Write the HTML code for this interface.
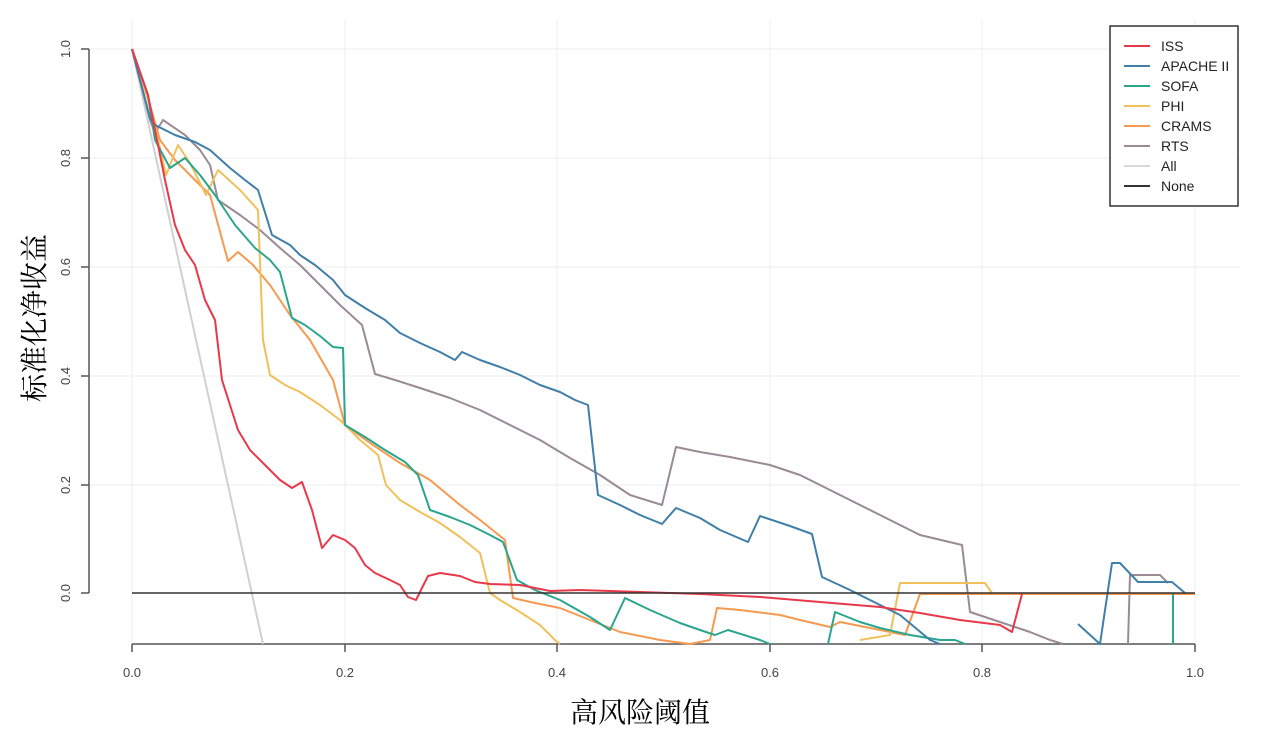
<!DOCTYPE html>
<html><head><meta charset="utf-8"><style>body{margin:0;background:#fff}</style></head><body>
<svg width="1269" height="738" xmlns="http://www.w3.org/2000/svg" font-family="Liberation Sans, sans-serif">
<rect width="1269" height="738" fill="#fff"/>
<g stroke="#ececec" stroke-width="1">
<line x1="132" y1="20" x2="132" y2="644"/><line x1="345" y1="20" x2="345" y2="644"/><line x1="557" y1="20" x2="557" y2="644"/><line x1="770" y1="20" x2="770" y2="644"/><line x1="982" y1="20" x2="982" y2="644"/><line x1="1195" y1="20" x2="1195" y2="644"/>
<line x1="89" y1="49" x2="1240" y2="49"/><line x1="89" y1="158" x2="1240" y2="158"/><line x1="89" y1="267" x2="1240" y2="267"/><line x1="89" y1="376" x2="1240" y2="376"/><line x1="89" y1="485" x2="1240" y2="485"/>
</g>
<g stroke="#555" stroke-width="1.5" fill="none">
<path d="M132,644H1195M132,644v8M345,644v8M557,644v8M770,644v8M982,644v8M1195,644v8"/>
<path d="M89,49V593M89,49h-8M89,158h-8M89,267h-8M89,376h-8M89,485h-8M89,593h-8"/>
</g>
<g font-size="13" fill="#444" text-anchor="middle">
<text x="132" y="677">0.0</text><text x="345" y="677">0.2</text><text x="557" y="677">0.4</text><text x="770" y="677">0.6</text><text x="982" y="677">0.8</text><text x="1195" y="677">1.0</text>
<text transform="translate(70,593) rotate(-90)">0.0</text><text transform="translate(70,485) rotate(-90)">0.2</text><text transform="translate(70,376) rotate(-90)">0.4</text><text transform="translate(70,267) rotate(-90)">0.6</text><text transform="translate(70,158) rotate(-90)">0.8</text><text transform="translate(70,49) rotate(-90)">1.0</text>
</g>
<text x="640" y="722" font-size="28" text-anchor="middle" font-family="Liberation Serif, Noto Serif CJK SC, serif">高风险阈值</text>
<text transform="translate(44,318) rotate(-90)" font-size="28" text-anchor="middle" font-family="Liberation Serif, Noto Serif CJK SC, serif">标准化净收益</text>
<g fill="none" stroke-width="2" stroke-linejoin="round">
<line x1="132" y1="49" x2="263" y2="644" stroke="#d0d0d0"/>
<polyline stroke="#9a8a96" points="132,49 150,120 155,133 163,120 185,135 200,150 210,165 218,200 240,215 260,230 280,248 300,265 320,285 340,305 362,325 375,374 395,380 420,388 450,398 480,410 510,425 540,440 570,458 600,475 630,495 662,505 676,447 700,452 730,457 770,465 800,475 830,490 860,505 890,520 920,535 962,545 970,612 1000,622 1030,632 1050,640 1063,644"/>
<polyline stroke="#9a8a96" points="1128,644 1130,575 1160,575 1168,583"/>
<polyline stroke="#f59a50" points="132,49 150,105 160,140 175,160 190,175 210,195 228,261 238,252 253,265 270,285 290,315 310,340 333,380 345,425 370,443 400,463 430,480 460,505 480,520 505,540 513,598 535,603 560,608 590,620 620,632 660,640 690,644 710,640 717,608 740,610 780,615 800,620 830,627 840,622 860,626 880,630 905,635 920,594 1195,594"/>
<polyline stroke="#f0c05a" points="132,49 148,100 160,148 166,175 178,145 190,163 206,195 218,170 240,190 258,210 263,340 270,375 285,385 300,392 320,405 340,420 360,440 378,455 386,485 400,500 420,512 440,523 460,537 480,553 490,593 500,600 520,612 540,625 555,640 560,644"/>
<polyline stroke="#f0c05a" points="860,640 890,635 900,583 935,583 985,583 992,593"/>
<polyline stroke="#2aa58e" points="132,49 148,95 155,140 170,168 185,158 200,175 215,195 235,225 255,248 270,260 280,272 292,318 305,325 320,336 333,347 343,348 345,425 365,437 385,450 405,462 418,475 430,510 450,517 470,525 490,535 503,542 517,580 535,590 560,600 590,617 610,630 625,598 650,610 680,623 700,630 715,635 728,630 760,640 770,644"/>
<polyline stroke="#2aa58e" points="828,644 835,612 860,622 880,628 910,635 940,640 955,640 965,644"/>
<line x1="1173" y1="593" x2="1173" y2="644" stroke="#2aa58e"/>
<polyline stroke="#3f7fa8" points="132,49 150,118 155,125 175,135 195,142 210,150 230,168 245,180 258,190 272,235 290,245 300,255 315,265 333,280 345,295 365,308 385,320 400,333 420,343 440,352 455,360 462,352 480,360 500,367 520,375 540,385 560,392 575,400 588,405 598,495 620,505 640,515 662,524 676,508 700,518 720,530 748,542 760,516 790,526 812,534 822,577 850,590 870,600 900,615 930,640 940,644"/>
<polyline stroke="#3f7fa8" points="1078,624 1100,644 1112,563 1120,563 1138,582 1172,582 1185,593"/>
<polyline stroke="#e8394a" points="132,49 148,95 165,180 175,225 185,250 195,265 205,300 215,320 222,380 230,405 238,430 250,450 265,465 280,480 292,488 302,482 312,510 322,548 333,535 345,540 355,548 365,565 375,573 390,580 400,585 408,597 416,600 428,576 440,573 460,576 475,582 490,584 520,585 550,591 580,590 640,592 700,594 760,597 820,602 880,607 920,613 960,620 1000,625 1012,632 1022,594"/>
<line x1="132" y1="593" x2="1195" y2="593" stroke="#333" stroke-width="1.5"/>
</g>
<rect x="1110" y="26" width="128" height="180" fill="#fff" stroke="#333" stroke-width="1.5"/>
<g stroke-width="2">
<line x1="1124" y1="46" x2="1150" y2="46" stroke="#e8394a"/><line x1="1124" y1="66" x2="1150" y2="66" stroke="#3f7fa8"/><line x1="1124" y1="86" x2="1150" y2="86" stroke="#2aa58e"/><line x1="1124" y1="106" x2="1150" y2="106" stroke="#f0c05a"/><line x1="1124" y1="126" x2="1150" y2="126" stroke="#f59a50"/><line x1="1124" y1="146" x2="1150" y2="146" stroke="#9a8a96"/><line x1="1124" y1="166" x2="1150" y2="166" stroke="#d8d8d8"/><line x1="1124" y1="186" x2="1150" y2="186" stroke="#333"/>
</g>
<g font-size="14" fill="#222">
<text x="1161" y="51">ISS</text><text x="1161" y="71">APACHE II</text><text x="1161" y="91">SOFA</text><text x="1161" y="111">PHI</text><text x="1161" y="131">CRAMS</text><text x="1161" y="151">RTS</text><text x="1161" y="171">All</text><text x="1161" y="191">None</text>
</g>
</svg>
</body></html>
